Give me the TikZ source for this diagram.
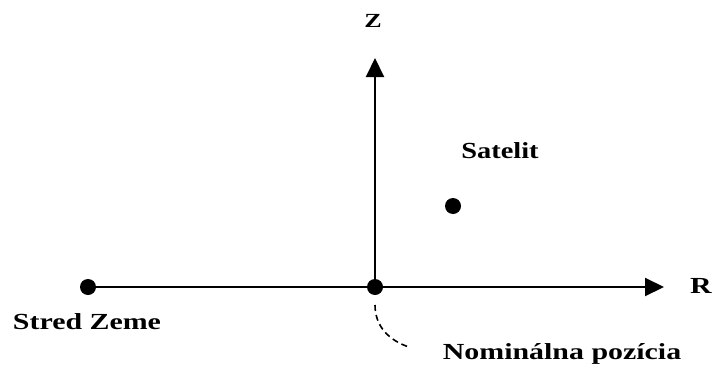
\documentclass[tikz,border=0pt]{standalone}
\usepackage{fontspec}
\setmainfont{Liberation Serif}
\usetikzlibrary{arrows.meta}

\begin{document}
\begin{tikzpicture}[x=1pt,y=1pt,
    dot/.style={circle,fill=black,inner sep=0pt,minimum size=16pt},
    axis/.style={line width=2pt,-{Triangle[length=19pt,width=18pt]}},
    lbl/.style={font=\bfseries\fontsize{23}{26}\selectfont,xscale=1.3,anchor=base,inner sep=0pt}]
  \useasboundingbox (0,0) rectangle (714,368);
  \coordinate (ztip) at (375,310);
  \coordinate (rtip) at (664,81);
  \coordinate (dstart) at (375,63);
  \coordinate (dend) at (409,21);
  \node[dot] (earth) at (88,81) {};
  \node[dot] (origin) at (375,81) {};
  \node[dot] (sat) at (453,162) {};
  \draw[axis] (origin.center) -- (ztip);
  \draw[axis] (earth.center) -- (rtip);
  \draw[line width=1.6pt,dash pattern=on 6pt off 4pt] (dstart) to[out=-90,in=162] (dend);
  \node[lbl,font=\bfseries\fontsize{20}{22}\selectfont] (zlabel) at (373,341) {Z};
  \node[lbl] (rlabel) at (701,75) {R};
  \node[lbl,xscale=0.95] (satlabel) at (500,210) {Satelit};
  \node[lbl] (earthlabel) at (87,39) {Stred Zeme};
  \node[lbl] (nomlabel) at (562,9) {Nominálna pozícia};
\end{tikzpicture}
\end{document}
